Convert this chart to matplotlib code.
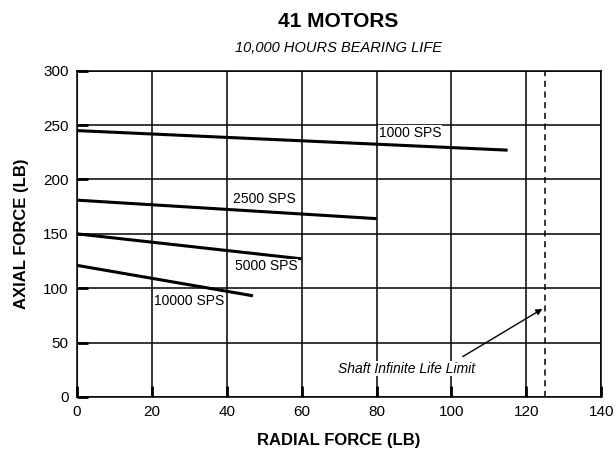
import matplotlib.pyplot as plt
from matplotlib import font_manager

# data
speeds = ['1000 SPS', '2500 SPS', '5000 SPS', '10000 SPS']
radial_start = [0, 0, 0, 0]
radial_end = [115, 80, 60, 47]
axial_start = [245, 181, 150, 121]
axial_end = [227, 164, 127, 93]
label_x = [89, 50, 50.5, 30]
label_y = [243, 182, 120, 88]
shaft_limit = 125
x_ticks = [0, 20, 40, 60, 80, 100, 120, 140]
y_ticks = [0, 50, 100, 150, 200, 250, 300]

names = {f.name for f in font_manager.fontManager.ttflist}
narrow = 'Liberation Sans Narrow' if 'Liberation Sans Narrow' in names else 'Liberation Sans'
plt.rcParams['font.family'] = ['Liberation Sans', 'DejaVu Sans']

fig = plt.figure(figsize=(6.16, 4.51), dpi=100)
ax = fig.add_axes([0.125, 0.12, 0.851, 0.723])

for i in range(len(speeds)):
    ax.plot([radial_start[i], radial_end[i]], [axial_start[i], axial_end[i]],
            color='black', lw=2.2, solid_capstyle='butt', zorder=3)
    ax.text(label_x[i], label_y[i], speeds[i], family=narrow, fontsize=10,
            ha='center', va='center', zorder=4,
            bbox=dict(facecolor='white', edgecolor='none', pad=0.5))

ax.axvline(shaft_limit, color='black', lw=1.1, ls=(0, (4, 3)), zorder=3)
ax.text(88, 26, 'Shaft Infinite Life Limit', family=narrow, style='italic', fontsize=10,
        ha='center', va='center', zorder=4,
        bbox=dict(facecolor='white', edgecolor='none', pad=0.5))
ax.annotate('', xy=(124.3, 81), xytext=(103, 37), zorder=4,
            arrowprops=dict(arrowstyle='-|>', color='black', lw=1, shrinkA=0, shrinkB=0,
                            mutation_scale=9))

ax.set_xlim(0, 140)
ax.set_ylim(0, 300)
ax.set_xticks(x_ticks)
ax.set_yticks(y_ticks)
ax.grid(True, color='black', lw=1.1)
ax.set_axisbelow(True)
for s in ax.spines.values():
    s.set_linewidth(1.1)
ax.tick_params(direction='in', length=8, width=2, labelsize=11, pad=6)

ax.set_xlabel('RADIAL FORCE (LB)', family=narrow, fontweight='bold', fontsize=12, labelpad=10)
ax.set_ylabel('AXIAL FORCE (LB)', family=narrow, fontweight='bold', fontsize=12, labelpad=10)

fig.text(0.549, 0.953, '41 MOTORS', family=narrow, fontweight='bold', fontsize=15,
         ha='center', va='center')
fig.text(0.549, 0.893, '10,000 HOURS BEARING LIFE', family=narrow, style='italic',
         fontsize=10.5, ha='center', va='center')

fig.savefig('out.png', dpi=100)
